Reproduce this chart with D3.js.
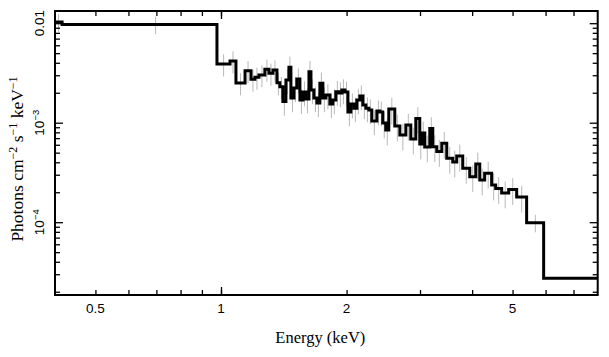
<!DOCTYPE html>
<html><head><meta charset="utf-8">
<script src="https://cdn.jsdelivr.net/npm/d3@7"></script>
<style>body{margin:0;background:#fff}svg{display:block}</style>
</head><body>
<svg id="c" width="609" height="357"></svg>
<script>
// ---- data ----
const energyEdges = [0.400,0.416,0.978,1.051,1.086,1.142,1.180,1.206,1.233,1.274,1.303,1.332,1.362,1.384,1.407,1.431,1.455,1.471,1.496,1.520,1.546,1.572,1.598,1.625,1.643,1.670,1.698,1.726,1.755,1.784,1.824,1.854,1.885,1.917,1.949,1.982,2.015,2.048,2.083,2.117,2.152,2.188,2.225,2.262,2.299,2.364,2.404,2.442,2.483,2.525,2.610,2.684,2.774,2.851,2.931,2.996,3.029,3.080,3.166,3.219,3.291,3.383,3.477,3.594,3.674,3.798,3.948,4.081,4.172,4.286,4.455,4.555,4.708,4.894,5.115,5.404,5.936,8.0];
const flux = [0.01028,0.00970,0.00389,0.00417,0.00251,0.00333,0.00273,0.00286,0.00302,0.00344,0.00314,0.00339,0.00252,0.00230,0.00163,0.00269,0.00360,0.00177,0.00223,0.00275,0.00169,0.00203,0.00173,0.00326,0.00213,0.00177,0.00158,0.00249,0.00177,0.00190,0.00154,0.00169,0.00205,0.00199,0.00213,0.00203,0.00128,0.00154,0.00140,0.00169,0.00185,0.00151,0.00140,0.00134,0.00104,0.00131,0.00128,0.000993,0.000845,0.00137,0.000927,0.000752,0.000948,0.000686,0.00110,0.000611,0.000788,0.000570,0.000874,0.000574,0.000514,0.000621,0.000439,0.000403,0.000463,0.000348,0.000287,0.000385,0.000266,0.000310,0.000237,0.000218,0.000197,0.000213,0.000179,0.0000989,0.0000273];
const relErr = [0.2,0.2,0.25,0.25,0.25,0.25,0.25,0.25,0.25,0.25,0.25,0.25,0.25,0.25,0.28,0.28,0.28,0.28,0.28,0.28,0.28,0.28,0.28,0.28,0.28,0.28,0.28,0.28,0.28,0.28,0.28,0.28,0.28,0.28,0.28,0.28,0.28,0.28,0.28,0.28,0.28,0.28,0.28,0.28,0.28,0.28,0.28,0.3,0.3,0.3,0.3,0.3,0.3,0.3,0.3,0.3,0.3,0.3,0.3,0.3,0.3,0.3,0.3,0.3,0.3,0.3,0.3,0.3,0.3,0.3,0.3,0.3,0.3,0.3,0.3,0.2,0];
const xLabelTicks = [0.5,1,2,5];
const xMinorTicks = [0.6,0.7,0.8,0.9,3,4,6,7];
const xDecadeTicks = [1];
const yMajorTicks = [1e-4,1e-3,1e-2];
const yMajorLabels = [["10","−4"],["10","−3"],["0.01",""]];
const yMinorTicks = [2e-5,3e-5,4e-5,5e-5,6e-5,7e-5,8e-5,9e-5,2e-4,3e-4,4e-4,5e-4,6e-4,7e-4,8e-4,9e-4,2e-3,3e-3,4e-3,5e-3,6e-3,7e-3,8e-3,9e-3];
const xTitle = "Energy (keV)";
const yTitleParts = [["Photons cm",false],["−2",true],[" s",false],["−1",true],[" keV",false],["−1",true]];

// ---- layout ----
const L=55, R=597.7, T=11, B=295;
const svg = d3.select("#c");
const x = d3.scaleLog().domain([0.4, 8]).range([L, R]);
const y = d3.scaleLog().domain([1.855e-5, 0.01326]).range([B, T]);

const bins = flux.map((v,i)=>({lo:energyEdges[i], hi:energyEdges[i+1], v, e:relErr[i]}));

svg.append("defs").append("clipPath").attr("id","clip")
  .append("rect").attr("x",L).attr("y",T).attr("width",R-L).attr("height",B-T);

// error bars
svg.append("g").attr("clip-path","url(#clip)")
  .selectAll("line").data(bins.filter(d=>d.e>0)).join("line")
  .attr("x1",d=>x((d.lo+d.hi)/2)).attr("x2",d=>x((d.lo+d.hi)/2))
  .attr("y1",d=>y(d.v*(1+d.e))).attr("y2",d=>y(d.v*(1-d.e)))
  .attr("stroke","#b8b8b8").attr("stroke-width",1);

// step histogram
const pts = bins.flatMap(d=>[[d.lo,d.v],[d.hi,d.v]]);
svg.append("path").attr("clip-path","url(#clip)")
  .attr("d", d3.line().x(d=>x(d[0])).y(d=>y(d[1]))(pts))
  .attr("fill","none").attr("stroke","#000").attr("stroke-width",3)
  .attr("stroke-linejoin","miter");

// axes ticks
function ax(gen, tx, ty, vals, size){
  const g = svg.append("g").attr("transform",`translate(${tx},${ty})`)
    .call(gen.tickValues(vals).tickSize(size).tickFormat(""));
  g.select(".domain").remove();
  g.selectAll(".tick line").attr("stroke","#000").attr("stroke-width",1.3);
  return g;
}
ax(d3.axisBottom(x), 0, B, xMinorTicks.concat(xLabelTicks), -5);
ax(d3.axisBottom(x), 0, B, xDecadeTicks, -8);
ax(d3.axisTop(x), 0, T, xMinorTicks.concat(xLabelTicks), -5);
ax(d3.axisTop(x), 0, T, xDecadeTicks, -8);
ax(d3.axisLeft(y), L, 0, yMinorTicks, -5);
ax(d3.axisLeft(y), L, 0, yMajorTicks, -8);
ax(d3.axisRight(y), R, 0, yMinorTicks, -5);
ax(d3.axisRight(y), R, 0, yMajorTicks, -8);

// frame
svg.append("rect").attr("x",L).attr("y",T).attr("width",R-L).attr("height",B-T)
  .attr("fill","none").attr("stroke","#000").attr("stroke-width",2);

// x tick labels
svg.append("g").selectAll("text").data(xLabelTicks).join("text")
  .attr("x",d=>x(d)).attr("y",B+18).attr("text-anchor","middle")
  .attr("font-family","'Liberation Sans', Arial, sans-serif").attr("font-size",13.5)
  .text(d=>d3.format("")(d));

// y tick labels (rotated)
yMajorTicks.forEach((v,i)=>{
  const t = svg.append("text")
    .attr("transform",`translate(44,${y(v)}) rotate(-90)`)
    .attr("text-anchor","middle")
    .attr("font-family","'Liberation Sans', Arial, sans-serif").attr("font-size",13.5);
  t.append("tspan").text(yMajorLabels[i][0]);
  if(yMajorLabels[i][1]) t.append("tspan").attr("dy",-5.5).attr("font-size",9.5).text(yMajorLabels[i][1]);
});

// axis titles
svg.append("text").attr("x",(L+R)/2 - 6).attr("y",343).attr("text-anchor","middle")
  .attr("font-family","'Liberation Serif','Times New Roman',serif").attr("font-size",16.5)
  .text(xTitle);
const yt = svg.append("text").attr("transform",`translate(23,159) rotate(-90)`)
  .attr("text-anchor","middle")
  .attr("font-family","'Liberation Serif','Times New Roman',serif").attr("font-size",17.5);
let up=false;
yTitleParts.forEach(([s,sup])=>{
  const ts = yt.append("tspan").text(s);
  if(sup && !up){ts.attr("dy",-6.5).attr("font-size",12); up=true;}
  else if(!sup && up){ts.attr("dy",6.5); up=false;}
});
</script>
</body></html>
